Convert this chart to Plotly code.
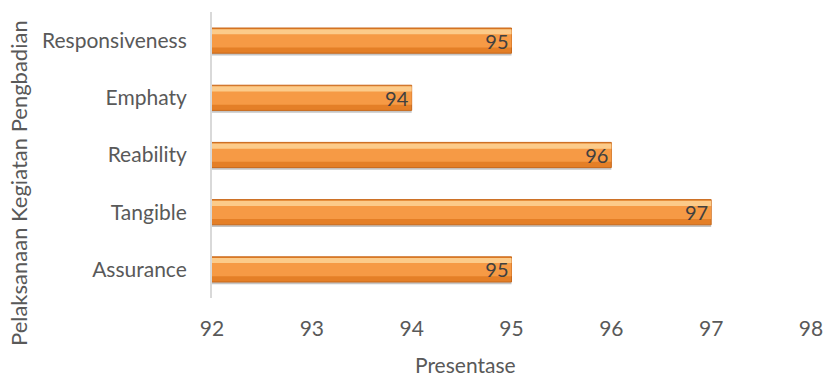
import plotly.graph_objects as go

categories = ["Assurance", "Tangible", "Reability", "Emphaty", "Responsiveness"]
values = [95, 97, 96, 94, 95]
x_ticks = [92, 93, 94, 95, 96, 97, 98]

FONT = "Lato"
GRAY = "#595959"
FS = 21

fig = go.Figure()
# shadow
fig.add_trace(go.Bar(y=categories, x=values, orientation="h",
                     width=0.44, offset=-0.26,
                     marker=dict(color="rgba(90,90,90,0.35)", line=dict(width=0)),
                     hoverinfo="skip", showlegend=False))
# main body (darker bottom)
fig.add_trace(go.Bar(y=categories, x=values, orientation="h",
                     width=0.44, offset=-0.22,
                     marker=dict(color="#E47F27", line=dict(color="#C8691C", width=1)),
                     hoverinfo="skip", showlegend=False))
# mid
fig.add_trace(go.Bar(y=categories, x=values, orientation="h",
                     width=0.30, offset=-0.12,
                     marker=dict(color="#F69A45", line=dict(width=0)),
                     hoverinfo="skip", showlegend=False))
# top highlight
fig.add_trace(go.Bar(y=categories, x=values, orientation="h",
                     width=0.09, offset=0.11,
                     marker=dict(color="#FCCB8A", line=dict(width=0)),
                     hoverinfo="skip", showlegend=False))
# labels
fig.add_trace(go.Bar(y=categories, x=values, orientation="h",
                     width=0.44, offset=-0.22,
                     marker=dict(color="rgba(0,0,0,0)", line=dict(width=0)),
                     text=[str(v) for v in values], textposition="inside",
                     insidetextanchor="end", textangle=0, constraintext="none",
                     textfont=dict(family=FONT, size=20, color="#404040"),
                     hoverinfo="skip", showlegend=False))

fig.update_layout(
    width=824, height=378,
    margin=dict(l=212, r=13, t=12, b=80, autoexpand=False),
    barmode="overlay",
    plot_bgcolor="white", paper_bgcolor="white",
    font=dict(family=FONT, size=FS, color=GRAY),
    xaxis=dict(range=[92, 98], tickvals=x_ticks, showgrid=False, zeroline=False,
               showline=False, ticks="", ticklabelstandoff=16, automargin=False,
               tickfont=dict(family=FONT, size=FS, color=GRAY)),
    yaxis=dict(categoryorder="array", categoryarray=categories, showgrid=False,
               showline=True, linecolor="#D9D9D9", linewidth=2, ticks="",
               ticklabelstandoff=19, range=[-0.5, 4.5], automargin=False,
               tickfont=dict(family=FONT, size=FS, color=GRAY)),
)
fig.add_annotation(text="Presentase", x=(465 - 212) / 599, xref="paper", xanchor="center",
                   y=-(364 - 298) / 286, yref="paper", yanchor="middle",
                   showarrow=False, font=dict(family=FONT, size=FS, color=GRAY))
fig.add_annotation(text="Pelaksanaan Kegiatan Pengbadian", textangle=-90,
                   x=-(212 - 18) / 599, xref="paper", xanchor="center",
                   y=(298 - 183) / 286, yref="paper", yanchor="middle",
                   showarrow=False, font=dict(family=FONT, size=22, color=GRAY))

fig.write_html("out.html")
